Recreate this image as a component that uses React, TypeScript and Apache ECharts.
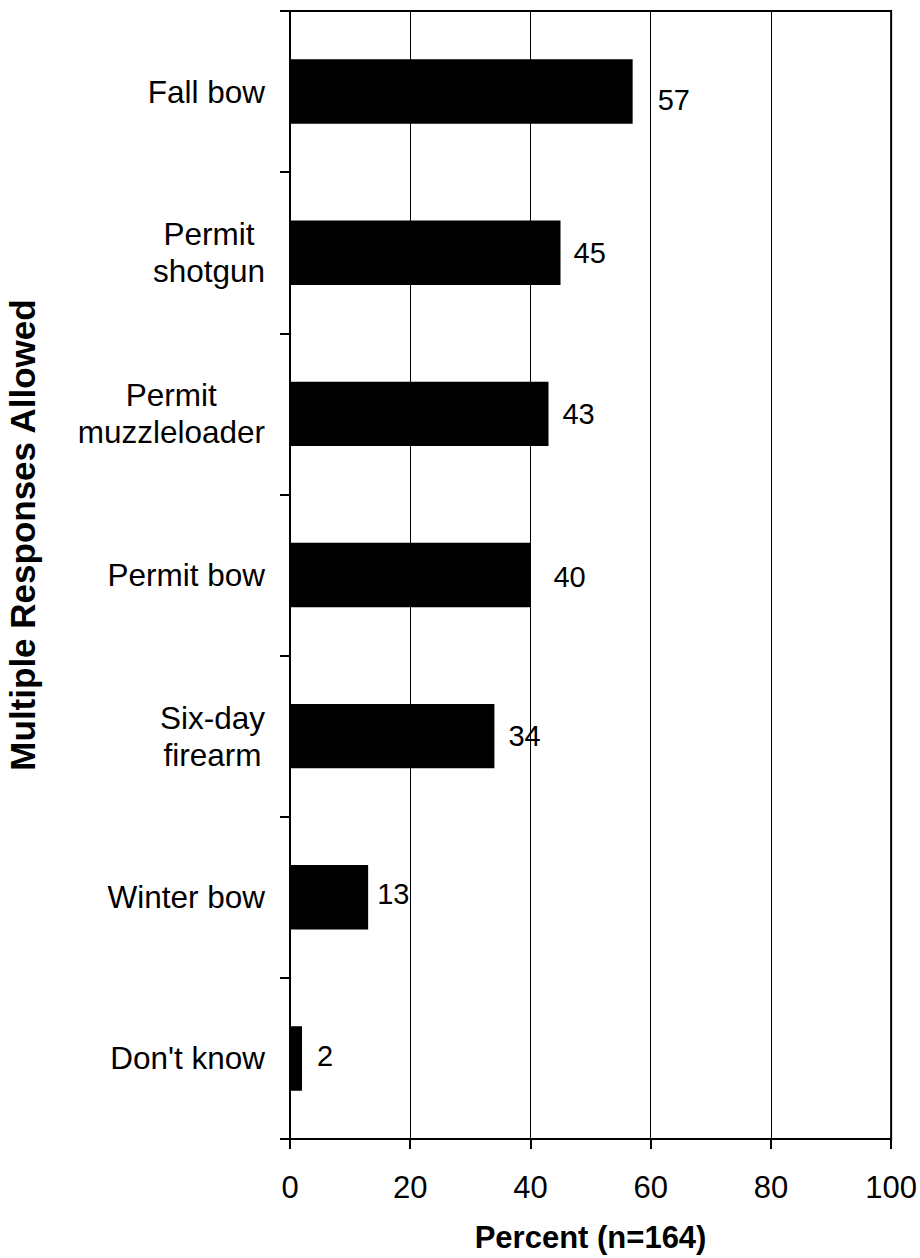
import React, { useEffect, useRef } from "react";
import * as echarts from "echarts";

const categories = [
  "Fall bow",
  "Permit\nshotgun",
  "Permit\nmuzzleloader",
  "Permit bow",
  "Six-day\nfirearm",
  "Winter bow",
  "Don't know",
];
const values = [57, 45, 43, 40, 34, 13, 2];
const xTicks = [0, 20, 40, 60, 80, 100];
const xTitle = "Percent (n=164)";
const yTitle = "Multiple Responses Allowed";

// label nudges (style only)
const labelGap = [25, 13, 14, 23, 14, 9, 15];
const labelDy = [8, 0, 0, 2, 0, -3, -2];

const FONT = "'Liberation Sans', Arial, sans-serif";

export default function App() {
  const ref = useRef<HTMLDivElement>(null);
  useEffect(() => {
    if (!ref.current) return;
    const chart = echarts.init(ref.current, undefined, { renderer: "svg" });
    chart.setOption({
      animation: false,
      backgroundColor: "#ffffff",
      textStyle: { fontFamily: FONT, color: "#000" },
      grid: {
        left: 290,
        right: 28,
        top: 11,
        bottom: 118,
        show: true,
        borderColor: "#000",
        borderWidth: 2,
        containLabel: false,
      },
      xAxis: {
        type: "value",
        min: xTicks[0],
        max: xTicks[xTicks.length - 1],
        interval: 20,
        name: xTitle,
        nameLocation: "middle",
        nameGap: 83,
        nameTextStyle: { fontSize: 31, fontWeight: "bold", color: "#000", fontFamily: FONT },
        axisLine: { show: true, lineStyle: { color: "#000", width: 2 } },
        axisTick: { show: true, inside: false, length: 10, lineStyle: { color: "#000", width: 2 } },
        axisLabel: { fontSize: 31, color: "#000", margin: 33, fontFamily: FONT },
        splitLine: { show: true, lineStyle: { color: "#000", width: 1 } },
      },
      yAxis: {
        type: "category",
        data: categories,
        inverse: true,
        axisLine: { show: true, lineStyle: { color: "#000", width: 2 } },
        axisTick: { show: true, inside: false, length: 10, lineStyle: { color: "#000", width: 2 } },
        axisLabel: {
          margin: 25,
          align: "right",
          color: "#000",
          formatter: (v: string) =>
            v
              .split("\n")
              .map((l) => `{c|${l}}`)
              .join("\n"),
          rich: {
            c: { align: "center", fontSize: 31.5, lineHeight: 37, color: "#000", fontFamily: FONT },
          },
        },
        splitLine: { show: false },
      },
      graphic: [
        {
          type: "text",
          x: 22,
          y: 535,
          rotation: Math.PI / 2,
          style: {
            text: yTitle,
            fontSize: 35,
            fontWeight: "bold",
            fontFamily: FONT,
            fill: "#000",
            align: "center",
            verticalAlign: "middle",
          },
        },
      ],
      series: [
        {
          type: "bar",
          barCategoryGap: "60%",
          itemStyle: { color: "#000" },
          data: values.map((v, i) => ({
            value: v,
            label: {
              show: true,
              position: "right",
              distance: labelGap[i],
              offset: [0, labelDy[i]],
              fontSize: 29,
              color: "#000",
              fontFamily: FONT,
            },
          })),
        },
      ],
    });
    return () => chart.dispose();
  }, []);
  return (
    <div
      ref={ref}
      style={{ position: "absolute", left: 0, top: 0, width: 920, height: 1258 }}
    />
  );
}
